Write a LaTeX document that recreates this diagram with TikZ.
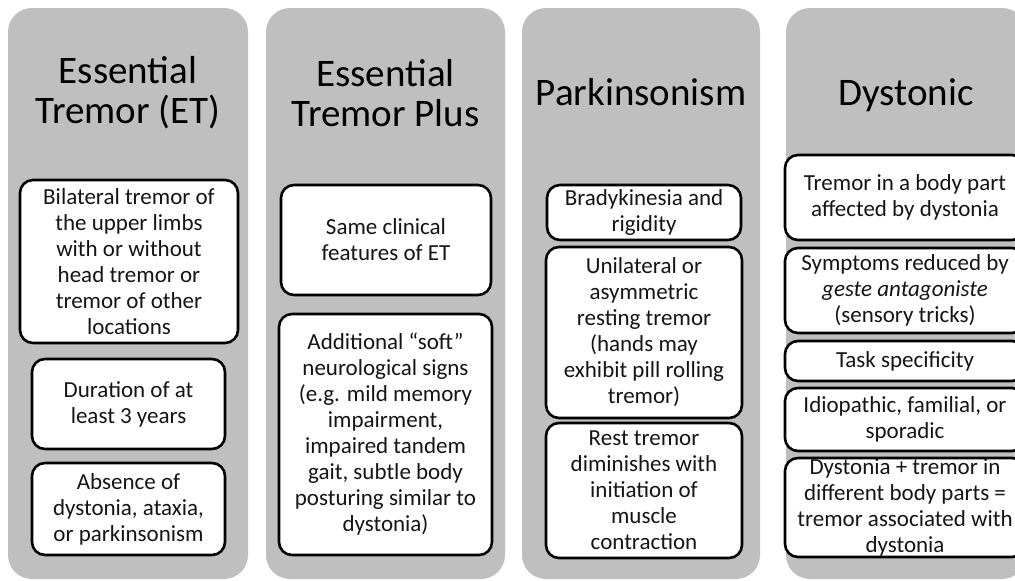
\documentclass[tikz,border=0pt]{standalone}
\usepackage{fontspec}
\setmainfont{Carlito}
\definecolor{colgray}{HTML}{BFBFBF}
\definecolor{txt}{HTML}{151515}
\begin{document}
\begin{tikzpicture}[x=1pt,y=-1pt,
  col/.style={fill=colgray, draw=none, rounded corners=24pt, inner sep=0pt},
  box/.style={draw=black, fill=white, line width=2.6pt, rounded corners=13pt, align=center, inner sep=0pt, text=txt, font=\fontsize{23}{26}\selectfont},
  ttl/.style={align=center, inner sep=0pt, text=black, font=\fontsize{39}{40}\selectfont}]
\useasboundingbox (0,0) rectangle (1015,581);
\clip (0,0) rectangle (1015,581);
% columns
\node[col, minimum width=240, minimum height=571] (c1) at (128,293.5) {};
\node[col, minimum width=239, minimum height=571] (c2) at (385.5,293.5) {};
\node[col, minimum width=238, minimum height=571] (c3) at (641,293.5) {};
\node[col, minimum width=240, minimum height=571] (c4) at (906,293.5) {};
% titles
\node[ttl] (t1) at (128,93) {Essential\\Tremor (ET)};
\node[ttl] (t2) at (385.5,93) {Essential\\Tremor Plus};
\node[ttl, anchor=base] (t3) at (641,105) {Parkinsonism};
\node[ttl, anchor=base] (t4) at (906,105) {Dystonic};
% column 1
\node[box, minimum width=218, minimum height=163] (e1) at (129,261.5) {Bilateral tremor of\\the upper limbs\\with or without\\head tremor or\\tremor of other\\locations};
\node[box, minimum width=193, minimum height=90] (e2) at (128.5,404) {Duration of at\\least 3 years};
\node[box, minimum width=193, minimum height=92] (e3) at (128.5,509) {Absence of\\dystonia, ataxia,\\or parkinsonism};
% column 2
\node[box, minimum width=210, minimum height=110] (p1) at (386,240) {Same clinical\\features of ET};
\node[box, minimum width=213, minimum height=241] (p2) at (385.5,434.5) {Additional “soft”\\neurological signs\\(e.g. mild memory\\impairment,\\impaired tandem\\gait, subtle body\\posturing similar to\\dystonia)};
% column 3
\node[box, minimum width=194, minimum height=55] (k1) at (644,212.5) {Bradykinesia and\\rigidity};
\node[box, minimum width=196, minimum height=171] (k2) at (644,332.5) {Unilateral or\\asymmetric\\resting tremor\\(hands may\\exhibit pill rolling\\tremor)};
\node[box, minimum width=196, minimum height=135] (k3) at (644,490.5) {Rest tremor\\diminishes with\\initiation of\\muscle\\contraction};
% column 4
\node[box, minimum width=240, minimum height=85] (d1) at (905,197.5) {Tremor in a body part\\affected by dystonia};
\node[box, minimum width=240, minimum height=85] (d2) at (905,290.5) {Symptoms reduced by\\\textit{geste antagoniste}\\(sensory tricks)};
\node[box, minimum width=240, minimum height=40] (d3) at (905,361) {Task specificity};
\node[box, minimum width=240, minimum height=63] (d4) at (905,419.5) {Idiopathic, familial, or\\sporadic};
\node[box, minimum width=240, minimum height=99] (d5) at (905,507.5) {Dystonia + tremor in\\different body parts =\\tremor associated with\\dystonia};
\end{tikzpicture}
\end{document}
